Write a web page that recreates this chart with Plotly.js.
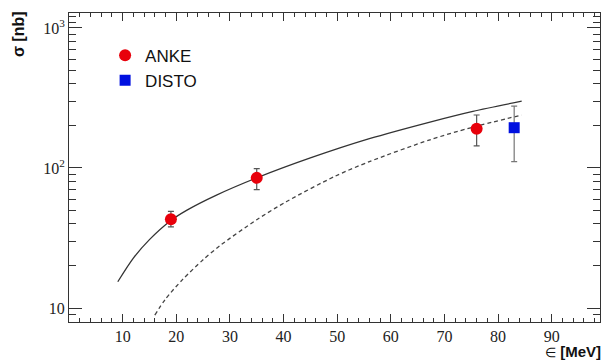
<!DOCTYPE html>
<html>
<head>
<meta charset="utf-8">
<script src="https://cdn.plot.ly/plotly-3.0.1.min.js"></script>
<style>html,body{margin:0;padding:0;background:#fff;}#chart{width:605px;height:361px;}</style>
</head>
<body>
<div id="chart"></div>
<script>
// Data
const ankeX = [19, 35, 76];
const ankeY = [43, 85, 191];
const ankeErrPlus = [6, 14, 48];
const ankeErrMinus = [5, 15, 47];

const distoX = [83];
const distoY = [194];
const distoErrPlus = [83];
const distoErrMinus = [83];

const solidX = [9.1, 12, 15, 19, 22, 27.5, 35, 45, 56, 67.3, 75.3, 84.4];
const solidY = [15.4, 22.7, 30.8, 42.2, 50, 64, 85, 118, 162, 213, 254, 300];

const dashX = [16, 18, 21.2, 25, 28.1, 35, 40.5, 49.6, 56, 67.3, 74.7, 84.4];
const dashY = [8.9, 11.6, 16.0, 22.1, 27.8, 42.7, 57.4, 87.3, 111, 159, 193, 239];

const xTickVals = [10, 20, 30, 40, 50, 60, 70, 80, 90];
const yTickVals = [10, 100, 1000];
const yTickText = ['10', '10<sup>2</sup>', '10<sup>3</sup>'];
const yMinorVals = [8, 9, 20, 30, 40, 50, 60, 70, 80, 90, 200, 300, 400, 500, 600, 700, 800, 900, 1100, 1200];

const traces = [
  {x: solidX, y: solidY, mode: 'lines', line: {color: '#333', width: 1.3, shape: 'spline', smoothing: 0.8}, showlegend: false, hoverinfo: 'skip'},
  {x: dashX, y: dashY, mode: 'lines', line: {color: '#444', width: 1.3, dash: '4px,3px', shape: 'spline', smoothing: 0.8}, showlegend: false, hoverinfo: 'skip'},
  {x: ankeX, y: ankeY, name: 'ANKE', mode: 'markers',
   marker: {color: '#e8000b', size: 12, symbol: 'circle'},
   error_y: {type: 'data', array: ankeErrPlus, arrayminus: ankeErrMinus, color: '#555', thickness: 1.2, width: 3}},
  {x: distoX, y: distoY, name: 'DISTO', mode: 'markers',
   marker: {color: '#0010e0', size: 11, symbol: 'square'},
   error_y: {type: 'data', array: distoErrPlus, arrayminus: distoErrMinus, color: '#777', thickness: 1.2, width: 3}}
];

const layout = {
  width: 605, height: 361,
  margin: {l: 69, r: 5, t: 13, b: 39},
  paper_bgcolor: '#fff', plot_bgcolor: '#fff',
  showlegend: true,
  legend: {x: 0.068, y: 0.92, xanchor: 'left', yanchor: 'top', bgcolor: 'rgba(0,0,0,0)',
           font: {family: 'Liberation Sans, Arial, sans-serif', size: 17, color: '#111'}},
  xaxis: {
    range: [0, 99], showgrid: false, zeroline: false,
    showline: true, linecolor: '#333', linewidth: 1, mirror: 'allticks',
    tickmode: 'array', tickvals: xTickVals,
    ticks: 'inside', ticklen: 8, tickcolor: '#333',
    tickfont: {family: 'Liberation Serif, Times New Roman, serif', size: 16, color: '#222'},
    minor: {dtick: 2, ticks: 'inside', ticklen: 4, tickcolor: '#333', showgrid: false}
  },
  yaxis: {
    type: 'log', range: [0.9, 3.107], showgrid: false, zeroline: false,
    showline: true, linecolor: '#333', linewidth: 1, mirror: 'allticks',
    tickmode: 'array', tickvals: yTickVals, ticktext: yTickText,
    ticks: 'inside', ticklen: 13, tickcolor: '#333',
    tickfont: {family: 'Liberation Serif, Times New Roman, serif', size: 16, color: '#222'},
    minor: {tickmode: 'array', tickvals: yMinorVals, ticks: 'inside', ticklen: 7, tickcolor: '#333', showgrid: false}
  },
  annotations: [
    {text: '<b>σ [nb]</b>', xref: 'paper', yref: 'paper', x: -0.096, y: 0.932, xanchor: 'center', yanchor: 'middle',
     textangle: -90, showarrow: false, font: {family: 'Liberation Sans, Arial, sans-serif', size: 16, color: '#111'}},
    {text: '<span style="font-size:13px">∈</span> <b>[MeV]</b>', xref: 'paper', yref: 'paper', x: 1.006, y: -0.096, xanchor: 'right', yanchor: 'middle',
     showarrow: false, font: {family: 'Liberation Sans, Arial, sans-serif', size: 15, color: '#111'}}
  ]
};

Plotly.newPlot('chart', traces, layout, {displayModeBar: false, staticPlot: true});
</script>
</body>
</html>
